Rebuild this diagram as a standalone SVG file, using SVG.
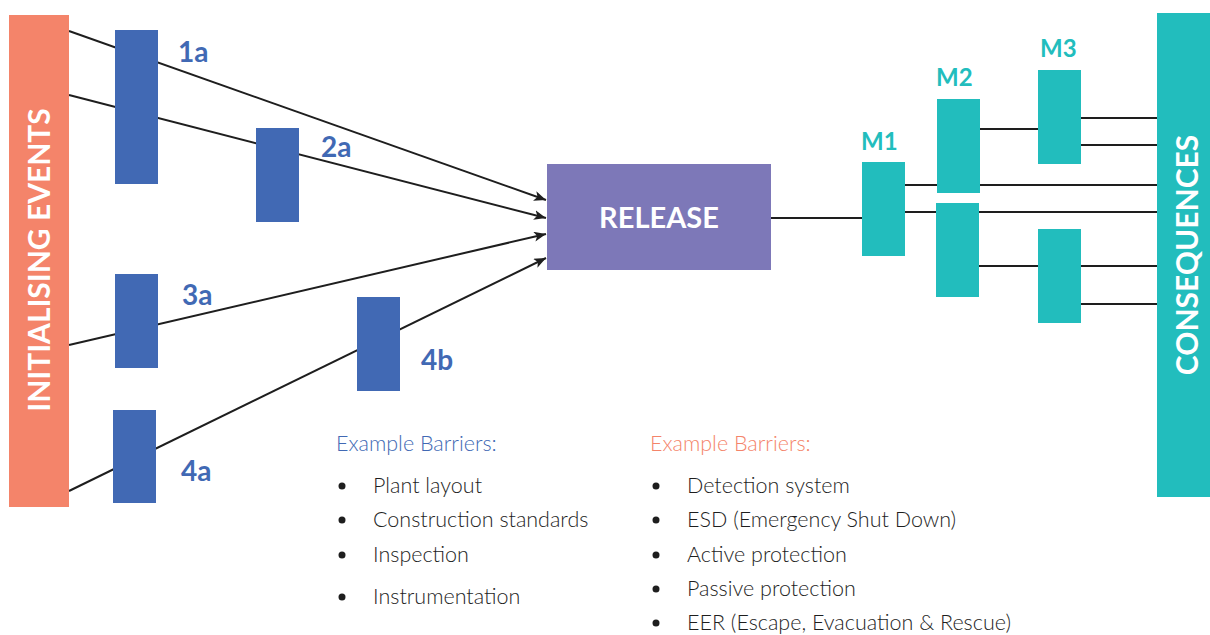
<svg xmlns="http://www.w3.org/2000/svg" width="1210" height="635" viewBox="0 0 1210 635">
  <style>
    .barrier { fill: #4169B4; }
    .mit { fill: #22BDBD; }
    .link { stroke: #1E1E1E; stroke-width: 2; fill: none; }
    .blab { font-family: Lato, "Open Sans", sans-serif; font-weight: bold; font-size: 28px; fill: #4169B4; }
    .mlab { font-family: Lato, "Open Sans", sans-serif; font-weight: bold; font-size: 24px; fill: #22BDBD; }
    .vtitle { font-family: Lato, "Open Sans", sans-serif; font-weight: bold; font-size: 30px; fill: #FFFFFF; text-anchor: middle; }
    .head { font-family: Lato, "Open Sans", sans-serif; font-weight: 300; font-size: 21.5px; }
    .item { font-family: Lato, "Open Sans", sans-serif; font-weight: 300; font-size: 21.5px; fill: #1E1E1E; }
  </style>
  <defs>
    <marker id="arrow" viewBox="0 0 12 10" refX="12" refY="5" markerWidth="12" markerHeight="10" markerUnits="userSpaceOnUse" orient="auto">
      <path d="M0,0 L12,5 L0,10 L3,5 Z" fill="#1E1E1E"/>
    </marker>
  </defs>

  <!-- connectors -->
  <g id="connectors">
    <line class="link" x1="69" y1="31" x2="546" y2="200" marker-end="url(#arrow)"/>
    <line class="link" x1="69" y1="95" x2="546" y2="218" marker-end="url(#arrow)"/>
    <line class="link" x1="69" y1="345" x2="546" y2="234" marker-end="url(#arrow)"/>
    <line class="link" x1="69" y1="491" x2="546" y2="258" marker-end="url(#arrow)"/>
    <line class="link" x1="771" y1="218" x2="862" y2="218"/>
    <line class="link" x1="905" y1="185" x2="1157" y2="185"/>
    <line class="link" x1="905" y1="212" x2="1157" y2="212"/>
    <line class="link" x1="980" y1="129" x2="1038" y2="129"/>
    <line class="link" x1="1081" y1="118" x2="1157" y2="118"/>
    <line class="link" x1="1081" y1="145" x2="1157" y2="145"/>
    <line class="link" x1="979" y1="266" x2="1157" y2="266"/>
    <line class="link" x1="1081" y1="304" x2="1157" y2="304"/>
  </g>

  <!-- initiating events -->
  <g id="initialising-events">
    <rect x="9" y="15" width="60" height="492" fill="#F4846A"/>
    <text class="vtitle" transform="translate(50,260) rotate(-90)">INITIALISING EVENTS</text>
  </g>

  <!-- prevention barriers -->
  <g id="barrier-1a">
    <rect class="barrier" x="115" y="30" width="43" height="154"/>
    <text class="blab" x="178" y="62">1a</text>
  </g>
  <g id="barrier-2a">
    <rect class="barrier" x="256" y="128" width="43" height="94"/>
    <text class="blab" x="321" y="157">2a</text>
  </g>
  <g id="barrier-3a">
    <rect class="barrier" x="115" y="274" width="43" height="94"/>
    <text class="blab" x="182" y="305">3a</text>
  </g>
  <g id="barrier-4a">
    <rect class="barrier" x="113" y="410" width="43" height="93"/>
    <text class="blab" x="181" y="481">4a</text>
  </g>
  <g id="barrier-4b">
    <rect class="barrier" x="357" y="297" width="43" height="94"/>
    <text class="blab" x="421" y="370">4b</text>
  </g>

  <!-- top event -->
  <g id="release">
    <rect x="547" y="164" width="224" height="106" fill="#7D78B8"/>
    <text x="659" y="228" text-anchor="middle" font-family="Lato, 'Open Sans', sans-serif" font-weight="bold" font-size="29" fill="#FFFFFF">RELEASE</text>
  </g>

  <!-- mitigation barriers -->
  <g id="mitigation-m1">
    <rect class="mit" x="862" y="162" width="43" height="94"/>
    <text class="mlab" x="861" y="150">M1</text>
  </g>
  <g id="mitigation-m2">
    <rect class="mit" x="937" y="99" width="43" height="94"/>
    <text class="mlab" x="936" y="86">M2</text>
  </g>
  <g id="mitigation-m2-lower">
    <rect class="mit" x="936" y="203" width="43" height="94"/>
  </g>
  <g id="mitigation-m3">
    <rect class="mit" x="1038" y="70" width="43" height="94"/>
    <text class="mlab" x="1040" y="57">M3</text>
  </g>
  <g id="mitigation-m3-lower">
    <rect class="mit" x="1038" y="229" width="43" height="94"/>
  </g>

  <!-- outcomes -->
  <g id="consequences">
    <rect x="1157" y="13" width="53" height="484" fill="#22BDBD"/>
    <text class="vtitle" transform="translate(1198,255) rotate(-90)">CONSEQUENCES</text>
  </g>

  <!-- barrier examples -->
  <g id="prevention-examples">
    <text class="head" x="336" y="451" fill="#4169B4">Example Barriers:</text>
    <g class="item">
      <circle cx="342" cy="486" r="3.5" fill="#1E1E1E"/>
      <text x="373" y="493">Plant layout</text>
      <circle cx="342" cy="520" r="3.5" fill="#1E1E1E"/>
      <text x="373" y="527">Construction standards</text>
      <circle cx="342" cy="555" r="3.5" fill="#1E1E1E"/>
      <text x="373" y="562">Inspection</text>
      <circle cx="342" cy="597" r="3.5" fill="#1E1E1E"/>
      <text x="373" y="604">Instrumentation</text>
    </g>
  </g>
  <g id="mitigation-examples">
    <text class="head" x="650" y="451" fill="#F4846A">Example Barriers:</text>
    <g class="item">
      <circle cx="656" cy="486" r="3.5" fill="#1E1E1E"/>
      <text x="687" y="493">Detection system</text>
      <circle cx="656" cy="520" r="3.5" fill="#1E1E1E"/>
      <text x="687" y="527">ESD (Emergency Shut Down)</text>
      <circle cx="656" cy="555" r="3.5" fill="#1E1E1E"/>
      <text x="687" y="562">Active protection</text>
      <circle cx="656" cy="589" r="3.5" fill="#1E1E1E"/>
      <text x="687" y="596">Passive protection</text>
      <circle cx="656" cy="623" r="3.5" fill="#1E1E1E"/>
      <text x="687" y="630">EER (Escape, Evacuation &amp; Rescue)</text>
    </g>
  </g>
</svg>
